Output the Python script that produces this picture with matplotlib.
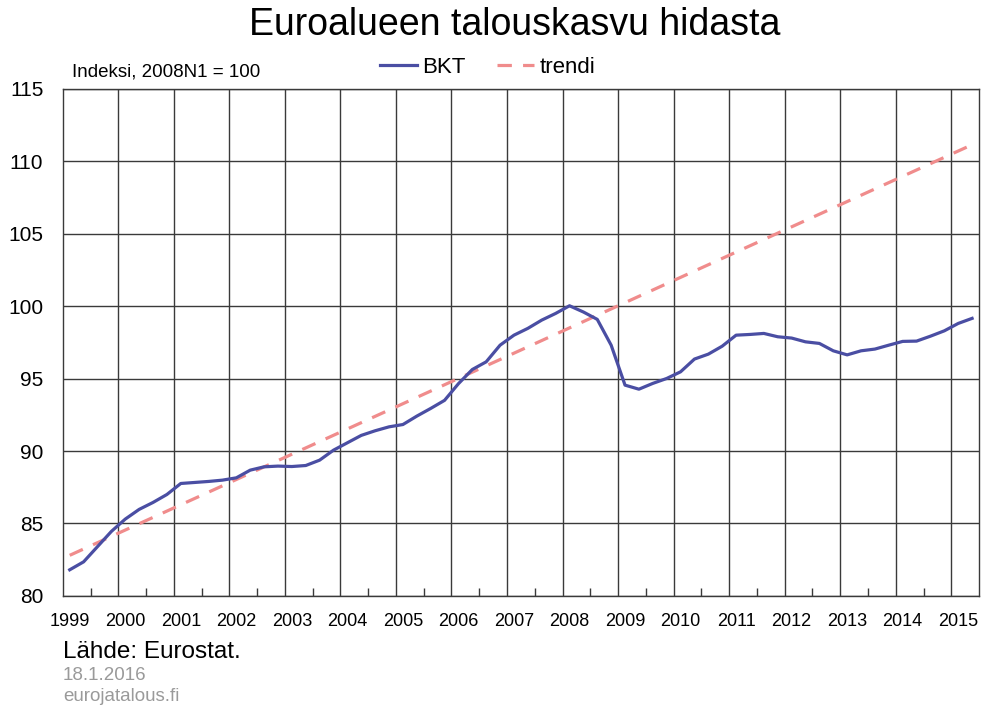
#Euroalueen BKT ja trendi
from matplotlib import pyplot as plt
import numpy as np

plt.rcParams['font.family'] = ['Liberation Sans', 'DejaVu Sans']

#neljännesvuosidata 1999N1 - 2015N2
years = list(range(1999, 2016))
bkt = [81.8, 82.35, 83.4, 84.45, 85.3, 85.97, 86.45, 87.0,
       87.76, 87.83, 87.9, 87.99, 88.15, 88.68, 88.91, 88.96,
       88.93, 89.0, 89.37, 90.06, 90.57, 91.08, 91.4, 91.67,
       91.83, 92.41, 92.94, 93.5, 94.65, 95.63, 96.16, 97.31,
       98.0, 98.47, 99.04, 99.5, 100.03, 99.6, 99.09, 97.31,
       94.55, 94.27, 94.67, 95.01, 95.47, 96.35, 96.69, 97.24,
       98.0, 98.05, 98.12, 97.89, 97.8, 97.54, 97.43, 96.92,
       96.64, 96.92, 97.04, 97.31, 97.57, 97.59, 97.93, 98.3,
       98.81, 99.16]
trend_q = [0, 65]
trend = [82.8, 111.15]
yticks = [80, 85, 90, 95, 100, 105, 110, 115]

n = len(bkt)
q = np.arange(n) + 0.5

fig = plt.figure(figsize=(9.81, 7.06), dpi=100)
ax = fig.add_axes([0.064, 0.156, 0.934, 0.718])

ax.plot(q, bkt, color='#4a4ea3', lw=2.3, label='BKT', zorder=3)
ax.plot(np.array(trend_q) + 0.5, trend, color='#f08c8c', lw=2.3,
        dashes=(4.5, 3.5), label='trendi', zorder=2)

ax.set_xlim(0, n)
ax.set_ylim(80, 115)
ax.set_yticks(yticks)
ax.tick_params(axis='y', length=0, pad=14, labelsize=15)
ax.grid(axis='y', color='#3a3a3a', lw=1)

#vuosiviivat ja tikit
ax.set_xticks([4 * k + 0.5 for k in range(len(years))])
ax.set_xticklabels([str(y) for y in years])
ax.set_xticks(np.arange(2, n, 4), minor=True)
ax.tick_params(axis='x', which='major', length=0, pad=12, labelsize=13)
ax.tick_params(axis='x', which='minor', direction='in', length=6,
               width=1, color='#3a3a3a')
for k in range(1, len(years)):
    ax.axvline(4 * k, color='#3a3a3a', lw=1, zorder=1)

for s in ax.spines.values():
    s.set_color('#3a3a3a')
    s.set_linewidth(1)

fig.text(0.525, 0.965, 'Euroalueen talouskasvu hidasta', ha='center',
         va='center', fontsize=27)
fig.text(0.073, 0.898, 'Indeksi, 2008N1 = 100', ha='left', va='center',
         fontsize=13.5)
fig.legend(loc='center', bbox_to_anchor=(0.497, 0.905), ncol=2,
           frameon=False, fontsize=16, handlelength=1.66,
           handletextpad=0.25, columnspacing=1.4)

fig.text(0.064, 0.076, 'Lähde: Eurostat.', ha='left', va='center',
         fontsize=17.5)
fig.text(0.064, 0.043, '18.1.2016', ha='left', va='center',
         fontsize=13.5, color='#9a9a9a')
fig.text(0.064, 0.013, 'eurojatalous.fi', ha='left', va='center',
         fontsize=13.5, color='#9a9a9a')

plt.savefig('out.png')
